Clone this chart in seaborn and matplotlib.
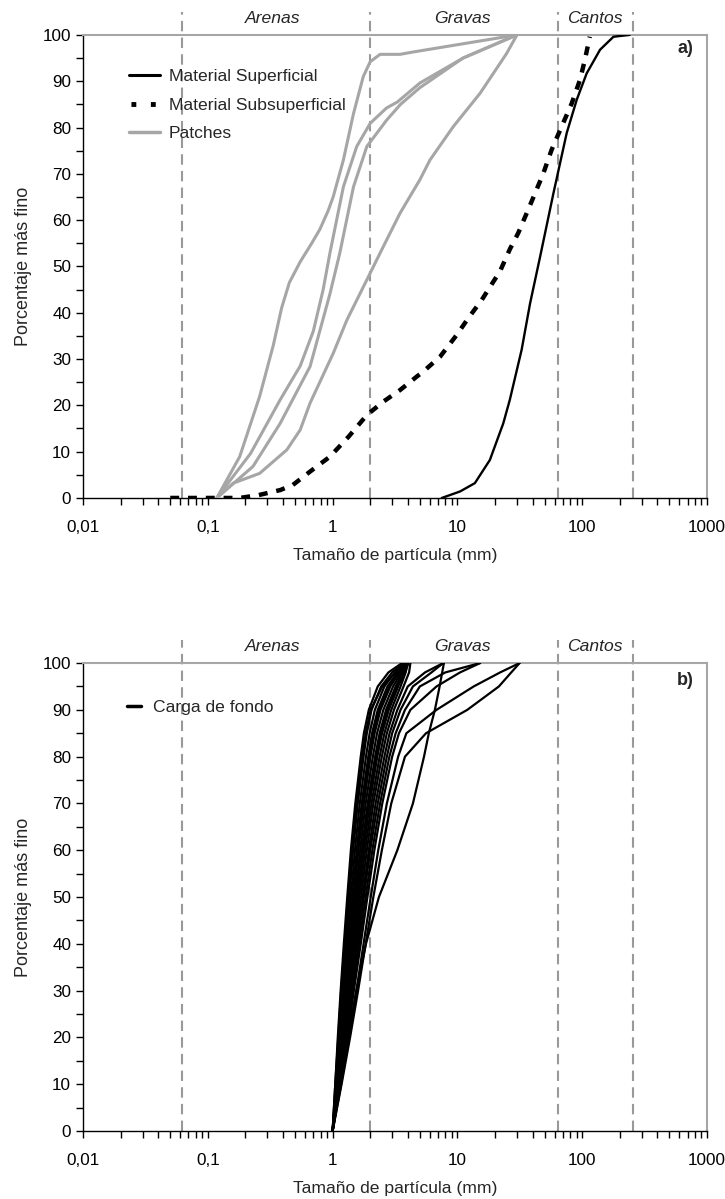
import matplotlib
matplotlib.use("Agg")
import matplotlib.pyplot as plt
import matplotlib.ticker as mticker
import pandas as pd
import seaborn as sns
from matplotlib.lines import Line2D

# ---- panel a data (size mm, % finer) ----
sup_size = [7.5, 10.5, 13.8, 18.2, 23.3, 26.3, 32.7, 38.2, 45.9, 58.8, 75.1, 90.4, 108.6, 139, 178, 240]
sup_pct = [0, 1.4, 3.2, 8.2, 16.1, 21.2, 32, 42, 52, 65.8, 78.8, 86, 91.7, 96.8, 99.6, 100]

sub_size = [0.05, 0.075, 0.11, 0.18, 0.254, 0.38, 0.48, 0.66, 0.95, 1.34, 1.88, 2.55, 3.47, 4.72,
            5.33, 7.26, 9.87, 12.2, 15.7, 19.4, 21.9, 26.4, 30.7, 35.9, 41.9, 48.8, 56.9, 68.4,
            82.4, 96, 105, 115]
sub_pct = [0, 0, 0, 0, 0.6, 1.7, 2.8, 5.7, 8.9, 13.2, 17.9, 20.8, 23.3, 26.2, 27.3, 30.5, 35.2,
           38.8, 42.8, 46.7, 48.9, 53.8, 57.2, 61.5, 65.8, 70.1, 75.2, 80.2, 85.2, 90.3, 94.6, 99.6]

p1_size = [0.118, 0.18, 0.26, 0.335, 0.39, 0.45, 0.55, 0.68, 0.79, 0.92, 1.01, 1.22, 1.47, 1.76,
           2.0, 2.4, 3.47, 4.4, 30]
p1_pct = [0, 8.9, 21.9, 33, 41, 46.5, 51, 55, 58, 62, 65, 73, 83, 91, 94.2, 95.8, 95.8, 96.3, 100]
p2_size = [0.118, 0.22, 0.38, 0.55, 0.7, 0.84, 0.95, 1.22, 1.56, 2.0, 2.7, 3.3, 5.0, 11.1, 30]
p2_pct = [0, 9.6, 21.2, 28.5, 36, 45, 52.8, 67.2, 75.9, 80.9, 84.2, 85.5, 89.6, 95, 100]
p3_size = [0.118, 0.23, 0.38, 0.66, 0.95, 1.14, 1.47, 1.88, 2.71, 3.5, 5.0, 11.1, 30]
p3_pct = [0, 6.8, 16.1, 28.4, 44, 52.8, 67.2, 75.9, 81.6, 85, 88.6, 95, 100]
p4_size = [0.118, 0.16, 0.26, 0.43, 0.55, 0.66, 1.01, 1.3, 1.88, 2.55, 3.47, 5.0, 6.03, 9.27,
           15.2, 24.8, 30]
p4_pct = [0, 3.2, 5.3, 10.4, 14.7, 20.5, 31.2, 38.4, 47.1, 54.3, 61.5, 68.7, 73, 80.2, 87.4, 96, 100]

# ---- panel b data: bed load curves, size (mm) at each % finer level ----
bed_pct = [0, 10, 20, 30, 40, 50, 60, 70, 80, 85, 90, 95, 98, 100]
bed_sizes = [
    [1.00, 1.05, 1.10, 1.16, 1.23, 1.31, 1.40, 1.52, 1.68, 1.78, 1.95, 2.30, 2.80, 3.60],
    [1.00, 1.06, 1.12, 1.19, 1.27, 1.36, 1.46, 1.59, 1.77, 1.88, 2.05, 2.45, 3.00, 3.70],
    [1.00, 1.07, 1.14, 1.22, 1.30, 1.40, 1.51, 1.65, 1.85, 1.98, 2.18, 2.60, 3.15, 3.70],
    [1.00, 1.07, 1.15, 1.24, 1.33, 1.44, 1.56, 1.71, 1.93, 2.07, 2.30, 2.75, 3.30, 3.80],
    [1.00, 1.08, 1.17, 1.26, 1.36, 1.48, 1.61, 1.78, 2.01, 2.17, 2.42, 2.90, 3.40, 3.80],
    [1.00, 1.09, 1.18, 1.28, 1.39, 1.52, 1.66, 1.84, 2.10, 2.27, 2.55, 3.05, 3.55, 3.90],
    [1.00, 1.09, 1.19, 1.30, 1.42, 1.56, 1.71, 1.91, 2.19, 2.38, 2.68, 3.20, 3.65, 3.95],
    [1.00, 1.10, 1.21, 1.33, 1.46, 1.60, 1.77, 1.98, 2.28, 2.49, 2.82, 3.35, 3.75, 4.00],
    [1.00, 1.11, 1.22, 1.35, 1.49, 1.64, 1.82, 2.05, 2.38, 2.60, 2.95, 3.50, 3.85, 4.00],
    [1.00, 1.12, 1.24, 1.37, 1.52, 1.69, 1.88, 2.12, 2.48, 2.72, 3.10, 3.70, 4.10, 4.20],
    [1.00, 1.12, 1.25, 1.40, 1.56, 1.74, 1.95, 2.21, 2.60, 2.86, 3.30, 4.00, 5.50, 7.70],
    [1.00, 1.13, 1.27, 1.42, 1.59, 1.78, 2.00, 2.30, 2.72, 3.00, 3.50, 4.40, 6.20, 7.70],
    [1.00, 1.14, 1.29, 1.45, 1.63, 1.84, 2.08, 2.40, 2.85, 3.20, 3.80, 5.00, 8.00, 15.2],
    [1.00, 1.15, 1.31, 1.48, 1.68, 1.90, 2.16, 2.50, 3.00, 3.40, 4.20, 6.80, 10.5, 15.2],
    [1.00, 1.17, 1.35, 1.55, 1.77, 2.02, 2.32, 2.72, 3.35, 3.90, 6.80, 13.5, 22.0, 31.5],
    [1.00, 1.18, 1.38, 1.60, 1.84, 2.12, 2.48, 2.95, 3.80, 5.60, 12.0, 21.5, 27.0, 31.5],
    [1.00, 1.15, 1.32, 1.55, 1.85, 2.35, 3.30, 4.40, 5.40, 5.90, 6.60, 7.20, 7.55, 7.80],
    [1.00, 1.05, 1.11, 1.17, 1.25, 1.33, 1.43, 1.56, 1.73, 1.84, 2.02, 2.50, 3.20, 3.70],
    [1.00, 1.08, 1.16, 1.25, 1.35, 1.46, 1.59, 1.75, 1.98, 2.12, 2.36, 2.85, 3.45, 3.85],
    [1.00, 1.10, 1.20, 1.31, 1.44, 1.58, 1.74, 1.95, 2.24, 2.44, 2.75, 3.30, 3.80, 4.05],
]

class_bounds = [0.0625, 2, 64, 256]
class_names = ["Arenas", "Gravas", "Cantos"]
class_centres = [0.33, 11, 125]
xtick_vals = [0.01, 0.1, 1, 10, 100, 1000]
xtick_text = ["0,01", "0,1", "1", "10", "100", "1000"]

sns.set_style("ticks")
plt.rcParams['font.family'] = ['Liberation Sans', 'DejaVu Sans']
plt.rcParams['font.size'] = 12

GREY = '#a6a6a6'
DASH_GREY = '#999999'
LBL = 12.6

fig = plt.figure(figsize=(7.25, 11.99), dpi=100)
ax_a = fig.add_axes([0.1145, 0.5847, 0.8607, 0.3862])
ax_b = fig.add_axes([0.1145, 0.0567, 0.8607, 0.3903])


def style_axes(ax, tag, tag_y):
    ax.set_xscale('log')
    ax.set_xlim(0.01, 1000)
    ax.set_ylim(0, 100)
    for s in ['left', 'bottom']:
        ax.spines[s].set_color('black')
        ax.spines[s].set_linewidth(1.0)
    for s in ['top', 'right']:
        ax.spines[s].set_visible(True)
        ax.spines[s].set_color(GREY)
        ax.spines[s].set_linewidth(1.5)
    ax.set_xticks(xtick_vals)
    ax.set_xticklabels(xtick_text)
    ax.xaxis.set_minor_locator(mticker.LogLocator(base=10, subs=range(2, 10), numticks=20))
    ax.xaxis.set_minor_formatter(mticker.NullFormatter())
    ax.set_yticks(range(0, 101, 10))
    ax.yaxis.set_minor_locator(mticker.MultipleLocator(5))
    ax.tick_params(which='both', direction='out', length=5, width=1, colors='black',
                   labelsize=12.3, top=False, right=False)
    ax.tick_params(axis='x', pad=11)
    for b in class_bounds:
        ax.plot([b, b], [0, 105], ls=(0, (5, 3)), color=DASH_GREY, lw=1.5,
                clip_on=False, zorder=1)
    for name, c in zip(class_names, class_centres):
        ax.text(c, 103.5, name, style='italic', ha='center', va='center', fontsize=LBL)
    ax.text(0.978, tag_y, tag, transform=ax.transAxes, ha='right', va='center',
            fontsize=13, fontweight='bold')
    ax.set_xlabel('Tamaño de partícula (mm)', fontsize=LBL, labelpad=9)
    ax.set_ylabel('Porcentaje más fino', fontsize=13, labelpad=8)


style_axes(ax_a, 'a)', 0.97)
style_axes(ax_b, 'b)', 0.962)

# panel a
for xs, ys in [(p1_size, p1_pct), (p2_size, p2_pct), (p3_size, p3_pct), (p4_size, p4_pct)]:
    sns.lineplot(x=xs, y=ys, ax=ax_a, color=GREY, lw=2.2, sort=False, estimator=None, zorder=3)
sns.lineplot(x=sub_size, y=sub_pct, ax=ax_a, color='black', lw=3.2, ls=(0, (2.0, 2.0)),
             sort=False, estimator=None, zorder=4)
sns.lineplot(x=sup_size, y=sup_pct, ax=ax_a, color='black', lw=1.7, sort=False,
             estimator=None, zorder=5)

handles_a = [Line2D([], [], color='black', lw=2.2),
             Line2D([], [], color='black', lw=3.5, ls=(-0.4, (1.0, 3.0))),
             Line2D([], [], color=GREY, lw=2.5)]
ax_a.legend(handles_a, ['Material Superficial', 'Material Subsuperficial', 'Patches'],
            loc='upper left', bbox_to_anchor=(0.048, 0.96), frameon=False,
            handlelength=1.8, handletextpad=0.5, labelspacing=0.75, fontsize=LBL)

# panel b
rows = []
for i, sizes in enumerate(bed_sizes):
    for s, p in zip(sizes, bed_pct):
        rows.append({'curve': i, 'size': s, 'pct': p})
bed_df = pd.DataFrame(rows)
sns.lineplot(data=bed_df, x='size', y='pct', units='curve', estimator=None, sort=False,
             color='black', lw=1.6, ax=ax_b, zorder=3)

handles_b = [Line2D([], [], color='black', lw=2.5)]
ax_b.legend(handles_b, ['Carga de fondo'], loc='upper left', bbox_to_anchor=(0.045, 0.955),
            frameon=False, handlelength=0.8, handletextpad=0.7, fontsize=LBL)

fig.savefig('out.png', dpi=100)
